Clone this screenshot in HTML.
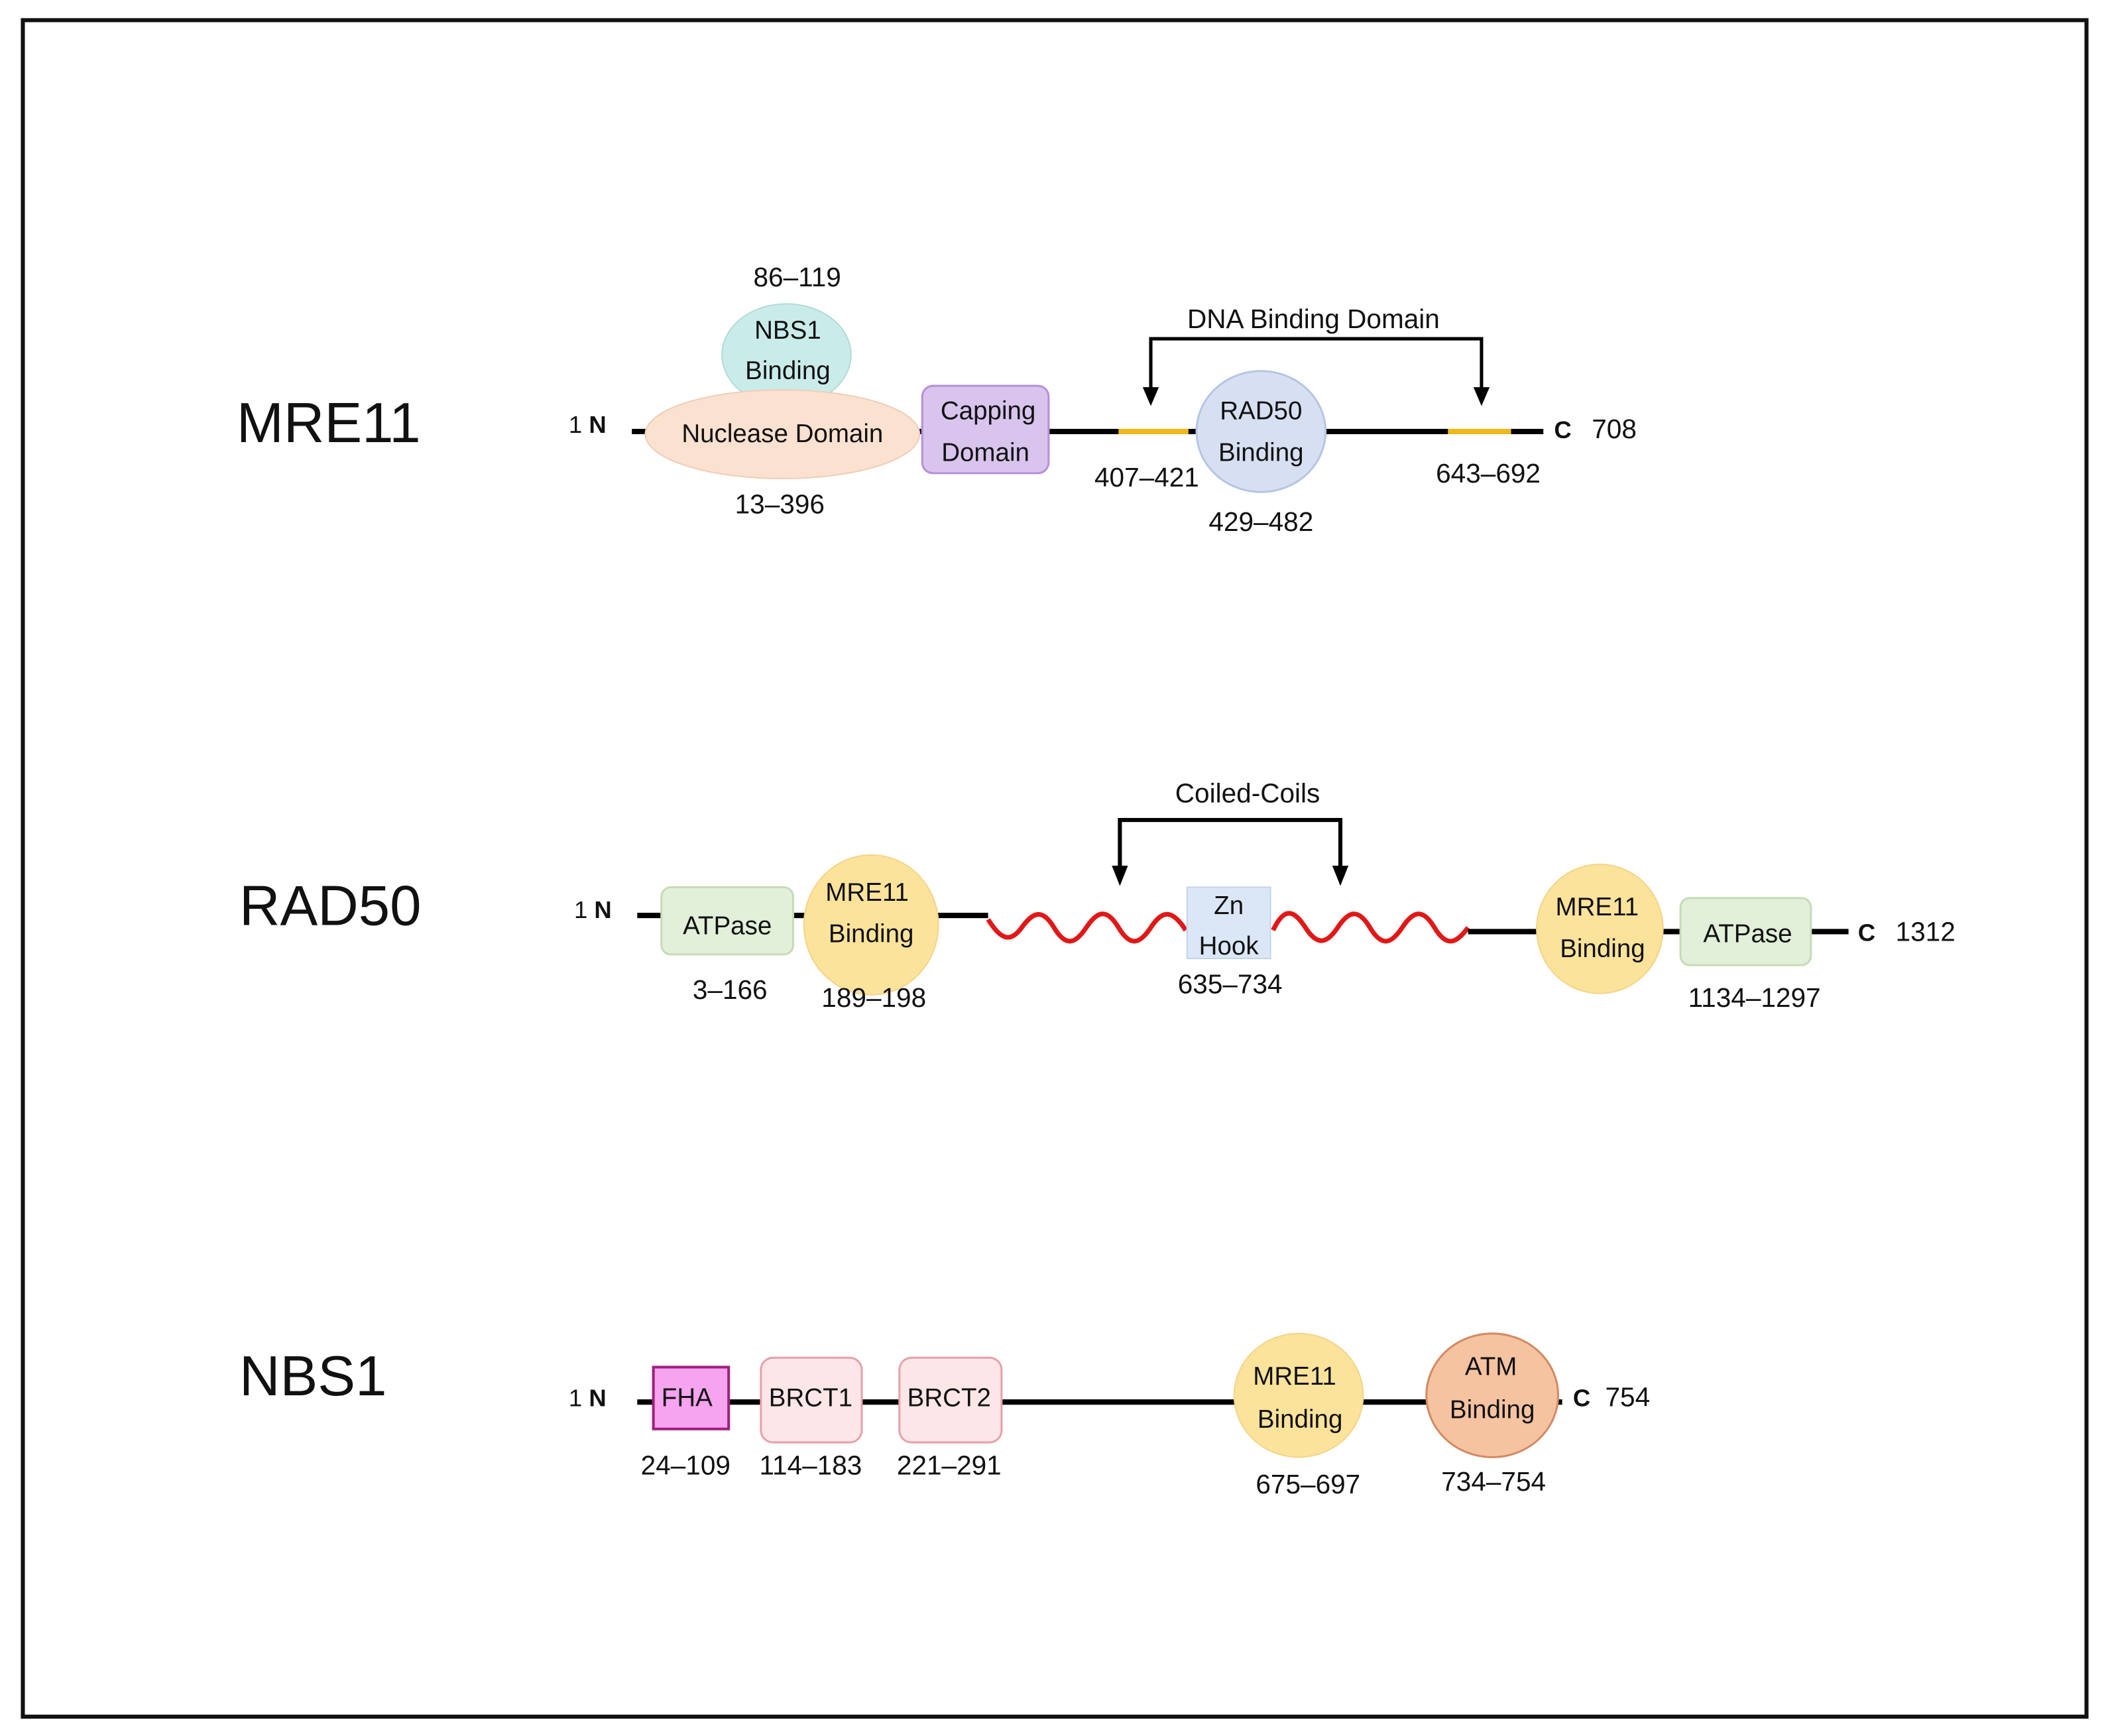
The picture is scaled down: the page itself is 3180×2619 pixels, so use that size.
<!DOCTYPE html>
<html><head><meta charset="utf-8"><style>
html,body{margin:0;padding:0;background:#fff;}
svg{display:block;}
text{font-family:"Liberation Sans",sans-serif;fill:#111;}
.l{font-size:20px;text-anchor:middle;}
.d{font-size:19px;text-anchor:middle;}
.p{font-size:42px;}
</style></head><body>
<svg width="3180" height="2619" viewBox="0 0 1568 1291.4" preserveAspectRatio="none" xmlns="http://www.w3.org/2000/svg">
<rect x="0" y="0" width="1568" height="1291.4" fill="#fff"/>
<rect x="17" y="15" width="1535" height="1262" fill="none" stroke="#111" stroke-width="3"/>

<!-- MRE11 -->
<text class="p" x="176" y="329">MRE11</text>
<text x="423" y="322" style="font-size:18px">1 <tspan font-weight="bold">N</tspan></text>
<line x1="470" y1="321" x2="1148" y2="321" stroke="#000" stroke-width="4"/>
<line x1="832" y1="321" x2="884" y2="321" stroke="#f0b81a" stroke-width="4"/>
<line x1="1077" y1="321" x2="1124" y2="321" stroke="#f0b81a" stroke-width="4"/>
<ellipse cx="585" cy="264" rx="48" ry="38" fill="#c9ecea" stroke="#b0dcd8" stroke-width="1"/>
<ellipse cx="582" cy="323" rx="102" ry="33" fill="#fbe1d0" stroke="#f0cdb8" stroke-width="1"/>
<rect x="686" y="287" width="94" height="65" rx="8" fill="#d9c4ee" stroke="#b690d8" stroke-width="1.5"/>
<ellipse cx="938" cy="321" rx="48" ry="45" fill="#d7e0f2" stroke="#b7c5e4" stroke-width="1.5"/>
<text class="d" x="586" y="252">NBS1</text>
<text class="d" x="586" y="282">Binding</text>
<text class="d" x="582" y="329">Nuclease Domain</text>
<text class="d" x="735" y="312">Capping</text>
<text class="d" x="733" y="343">Domain</text>
<text class="d" x="938" y="312">RAD50</text>
<text class="d" x="938" y="343">Binding</text>
<text x="1156" y="326" style="font-size:18px;font-weight:bold">C</text>
<text x="1184" y="326" style="font-size:20px">708</text>
<text class="l" x="593" y="213">86–119</text>
<text class="l" x="580" y="382">13–396</text>
<text class="l" x="853" y="362">407–421</text>
<text class="l" x="938" y="395">429–482</text>
<text class="l" x="1107" y="359">643–692</text>
<text class="l" x="977" y="244">DNA Binding Domain</text>
<path d="M856,290 L856,252 L1102,252 L1102,290" fill="none" stroke="#000" stroke-width="2.5"/>
<path d="M850,288 L862,288 L856,302 z" fill="#000"/>
<path d="M1096,288 L1108,288 L1102,302 z" fill="#000"/>

<!-- RAD50 -->
<text class="p" x="178" y="688">RAD50</text>
<text x="427" y="683" style="font-size:18px">1 <tspan font-weight="bold">N</tspan></text>
<line x1="474" y1="681" x2="735" y2="681" stroke="#000" stroke-width="4"/>
<rect x="492" y="660" width="98" height="50" rx="7" fill="#e2efd9" stroke="#c6dbb8" stroke-width="1.5"/>
<ellipse cx="648" cy="688" rx="50" ry="52" fill="#fce39b" stroke="#f5d488" stroke-width="1"/>
<path d="M735,684 C745,700 752,701 760,690 S775,675 784,690 S800,702 808,690 S823,675 832,690 S848,702 856,690 S871,675 882,692" fill="none" stroke="#e01818" stroke-width="3.5"/>
<path d="M947,692 C955,675 962,676 971,690 S987,702 995,690 S1010,675 1019,690 S1035,702 1043,690 S1058,675 1067,690 S1083,702 1092,690" fill="none" stroke="#e01818" stroke-width="3.5"/>
<rect x="883" y="660" width="62" height="53" fill="#dbe7f7" stroke="#c3d4ec" stroke-width="1"/>
<line x1="1092" y1="693" x2="1375" y2="693" stroke="#000" stroke-width="4"/>
<ellipse cx="1190" cy="691" rx="47" ry="48" fill="#fce39b" stroke="#f5d488" stroke-width="1"/>
<rect x="1250" y="668" width="97" height="50" rx="7" fill="#e2efd9" stroke="#c6dbb8" stroke-width="1.5"/>
<text class="d" x="541" y="695">ATPase</text>
<text class="d" x="645" y="670">MRE11</text>
<text class="d" x="648" y="701">Binding</text>
<text class="d" x="914" y="680">Zn</text>
<text class="d" x="914" y="710">Hook</text>
<text class="d" x="1188" y="681">MRE11</text>
<text class="d" x="1192" y="712">Binding</text>
<text class="d" x="1300" y="701">ATPase</text>
<text x="1382" y="700" style="font-size:18px;font-weight:bold">C</text>
<text x="1410" y="700" style="font-size:20px">1312</text>
<text class="l" x="543" y="743">3–166</text>
<text class="l" x="650" y="749">189–198</text>
<text class="l" x="915" y="739">635–734</text>
<text class="l" x="1305" y="749">1134–1297</text>
<text class="l" x="928" y="597">Coiled-Coils</text>
<path d="M833,646 L833,610 L997,610 L997,646" fill="none" stroke="#000" stroke-width="3"/>
<path d="M827,644 L839,644 L833,659 z" fill="#000"/>
<path d="M991,644 L1003,644 L997,659 z" fill="#000"/>

<!-- NBS1 -->
<text class="p" x="178" y="1038">NBS1</text>
<text x="423" y="1046" style="font-size:18px">1 <tspan font-weight="bold">N</tspan></text>
<line x1="474" y1="1043" x2="1162" y2="1043" stroke="#000" stroke-width="4"/>
<rect x="486" y="1017" width="56" height="46" fill="#f6a3f0" stroke="#a0207f" stroke-width="2"/>
<rect x="566" y="1010" width="75" height="63" rx="9" fill="#fde6e8" stroke="#e6a2aa" stroke-width="1.5"/>
<rect x="669" y="1010" width="76" height="63" rx="9" fill="#fde6e8" stroke="#e6a2aa" stroke-width="1.5"/>
<ellipse cx="966" cy="1038" rx="48" ry="46" fill="#fce39b" stroke="#f5d488" stroke-width="1"/>
<ellipse cx="1110" cy="1038" rx="49" ry="46" fill="#f6c3a1" stroke="#d38a62" stroke-width="1.5"/>
<text class="d" x="511" y="1046">FHA</text>
<text class="d" x="603" y="1046">BRCT1</text>
<text class="d" x="706" y="1046">BRCT2</text>
<text class="d" x="963" y="1030">MRE11</text>
<text class="d" x="967" y="1062">Binding</text>
<text class="d" x="1109" y="1023">ATM</text>
<text class="d" x="1110" y="1055">Binding</text>
<text x="1170" y="1046" style="font-size:18px;font-weight:bold">C</text>
<text x="1194" y="1046" style="font-size:20px">754</text>
<text class="l" x="510" y="1097">24–109</text>
<text class="l" x="603" y="1097">114–183</text>
<text class="l" x="706" y="1097">221–291</text>
<text class="l" x="973" y="1111">675–697</text>
<text class="l" x="1111" y="1109">734–754</text>
</svg>
</body></html>
